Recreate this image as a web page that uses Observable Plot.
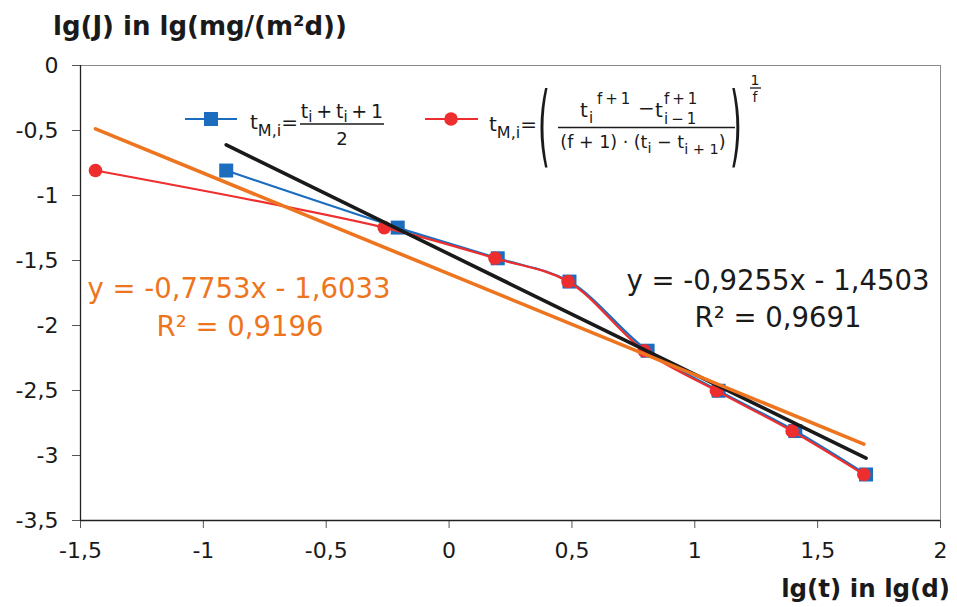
<!DOCTYPE html>
<html><head><meta charset="utf-8">
<script src="https://cdn.jsdelivr.net/npm/d3@7"></script>
<script src="https://cdn.jsdelivr.net/npm/@observablehq/plot@0.6"></script>
<style>html,body{margin:0;padding:0;background:#fff}</style>
</head><body><div id="chart"></div>
<script>
// ---- data ----
const blueX = [-0.907, -0.209, 0.198, 0.490, 0.808, 1.097, 1.409, 1.697]; // lg(t) with t_M,i = (t_i + t_i+1)/2
const redX  = [-1.439, -0.264, 0.187, 0.484, 0.794, 1.088, 1.396, 1.688]; // lg(t) with the power mean
const lgJ   = [-0.808, -1.247, -1.483, -1.662, -2.194, -2.502, -2.812, -3.146];
const blackTrendCoef  = [-0.9255, -1.4503]; // slope, intercept (blue series)
const orangeTrendCoef = [-0.7753, -1.6033]; // slope, intercept (red series)
const blackTrendLabel  = ["y = -0,9255x - 1,4503", "R² = 0,9691"];
const orangeTrendLabel = ["y = -0,7753x - 1,6033", "R² = 0,9196"];
const xTicks = [-1.5, -1, -0.5, 0, 0.5, 1, 1.5, 2];
const yTicks = [0, -0.5, -1, -1.5, -2, -2.5, -3, -3.5];
const yTitle = "lg(J) in lg(mg/(m²d))";
const xTitle = "lg(t) in lg(d)";

const BLUE = "#1d6dbf", RED = "#ee2e2e", ORANGE = "#ee7520", BLACK = "#1a1a1a";
const FONT = "DejaVu Sans";

const blue = blueX.map((x, i) => ({x, y: lgJ[i]}));
const red  = redX.map((x, i) => ({x, y: lgJ[i]}));
const trend = (coef, xs) => {
  const x0 = d3.min(xs), x1 = d3.max(xs);
  return [{x: x0, y: coef[0] * x0 + coef[1]}, {x: x1, y: coef[0] * x1 + coef[1]}];
};
const blackTrend = trend(blackTrendCoef, blueX);
const orangeTrend = trend(orangeTrendCoef, redX);
const fmt = d => String(d).replace(".", ",");

const plot = Plot.plot({
  width: 957, height: 607,
  marginLeft: 80, marginRight: 17, marginTop: 65, marginBottom: 87,
  x: {domain: [-1.5, 2]},
  y: {domain: [-3.5, 0]},
  style: {fontFamily: FONT, fontSize: "22px", color: "#1a1a1a", background: "#fff"},
  marks: [
    Plot.frame({stroke: "#8a8a8a", strokeWidth: 1}),
    Plot.axisX({ticks: xTicks, tickFormat: fmt, tickSize: 8, tickPadding: 14, fontSize: 22, stroke: "#555", label: null}),
    Plot.axisY({ticks: yTicks, tickFormat: fmt, tickSize: 8, tickPadding: 14, fontSize: 22, stroke: "#555", label: null}),
    Plot.ruleX([-1.5], {stroke: "#222", strokeWidth: 1.3}),
    Plot.ruleY([-3.5], {stroke: "#222", strokeWidth: 1.3}),
    Plot.line(blue, {x: "x", y: "y", curve: "catmull-rom", stroke: BLUE, strokeWidth: 2.2}),
    Plot.dot(blue, {x: "x", y: "y", symbol: "square", r: 7.9, fill: BLUE, stroke: null}),
    Plot.line(red, {x: "x", y: "y", curve: "catmull-rom", stroke: RED, strokeWidth: 2.2}),
    Plot.dot(red, {x: "x", y: "y", r: 6.8, fill: RED, stroke: null}),
    Plot.line(blackTrend, {x: "x", y: "y", stroke: BLACK, strokeWidth: 3.6}),
    Plot.line(orangeTrend, {x: "x", y: "y", stroke: ORANGE, strokeWidth: 3.6})
  ]
});

const svg = d3.select(plot);
function txt(x, y, s, size, opts = {}) {
  const t = svg.append("text").attr("x", x).attr("y", y)
    .attr("font-family", FONT).attr("font-size", size)
    .attr("fill", opts.fill || "#1a1a1a")
    .attr("text-anchor", opts.anchor || "start");
  if (opts.weight) t.attr("font-weight", opts.weight);
  if (s != null) t.text(s);
  return t;
}
function tsp(t, s, size, dy) {
  const sp = t.append("tspan").text(s);
  if (size) sp.attr("font-size", size);
  if (dy) sp.attr("dy", dy);
  return sp;
}

// axis titles
txt(53, 35, yTitle, 26, {weight: "bold"});
txt(950, 597, xTitle, 24.5, {weight: "bold", anchor: "end"});

// trend labels
txt(239, 298, orangeTrendLabel[0], 27.5, {fill: ORANGE, anchor: "middle"});
txt(240, 336, orangeTrendLabel[1], 27.5, {fill: ORANGE, anchor: "middle"});
txt(778, 290, blackTrendLabel[0], 27.5, {anchor: "middle"});
txt(778, 327, blackTrendLabel[1], 27.5, {anchor: "middle"});

// ---- legend ----
// blue entry
svg.append("line").attr("x1", 185).attr("x2", 237).attr("y1", 119).attr("y2", 119).attr("stroke", BLUE).attr("stroke-width", 2.2);
svg.append("rect").attr("x", 204).attr("y", 112).attr("width", 14).attr("height", 14).attr("fill", BLUE);
{
  const t = txt(250, 129, "t", 20);
  tsp(t, "M,i", 16, 7);
  tsp(t, "=", 20, -7);
  svg.append("line").attr("x1", 300).attr("x2", 384).attr("y1", 124).attr("y2", 124).attr("stroke", "#1a1a1a").attr("stroke-width", 1.6);
  const n = txt(342, 118, "t", 19, {anchor: "middle"});
  tsp(n, "i", 15, 4);
  tsp(n, "\u2009+\u2009t", 19, -4);
  tsp(n, "i", 15, 4);
  tsp(n, "\u2009+\u20091", 19, -4);
  txt(342, 145, "2", 18, {anchor: "middle"});
}
// red entry
svg.append("line").attr("x1", 425).attr("x2", 478).attr("y1", 119).attr("y2", 119).attr("stroke", RED).attr("stroke-width", 2.2);
svg.append("circle").attr("cx", 451).attr("cy", 119).attr("r", 6.8).attr("fill", RED);
{
  const t = txt(489, 131, "t", 20);
  tsp(t, "M,i", 16, 7);
  tsp(t, "=", 20, -7);
  // big parentheses
  svg.append("text").text("(").attr("font-family", FONT).attr("font-size", 30)
    .attr("transform", "translate(544,155.5) scale(1.05,2.95)").attr("fill", "#1a1a1a");
  svg.append("text").text(")").attr("font-family", FONT).attr("font-size", 30)
    .attr("transform", "translate(736,155.5) scale(1.05,2.95)").attr("fill", "#1a1a1a");
  // numerator
  txt(580, 117, "t", 20);
  txt(589, 123, "i", 15);
  txt(597, 104, "f\u2009+\u20091", 15);
  txt(638, 115, "\u2212", 20);
  txt(655, 117, "t", 20);
  txt(664, 104, "f\u2009+\u20091", 15);
  txt(664, 124, "i\u2009\u2212\u20091", 15);
  svg.append("line").attr("x1", 558).attr("x2", 735).attr("y1", 127.5).attr("y2", 127.5).attr("stroke", "#1a1a1a").attr("stroke-width", 1.6);
  // denominator
  const d = txt(643, 148, "(f + 1) · (t", 17.5, {anchor: "middle"});
  tsp(d, "i", 14.5, 5);
  tsp(d, " \u2212 t", 17.5, -5);
  tsp(d, "i + 1", 14.5, 6);
  tsp(d, ")", 17.5, -6);
  // exponent 1/f
  txt(755, 85, "1", 14, {anchor: "middle"});
  svg.append("line").attr("x1", 750).attr("x2", 761).attr("y1", 88).attr("y2", 88).attr("stroke", "#1a1a1a").attr("stroke-width", 1.3);
  txt(755, 102, "f", 14, {anchor: "middle"});
}

document.getElementById("chart").appendChild(plot);
</script></body></html>
